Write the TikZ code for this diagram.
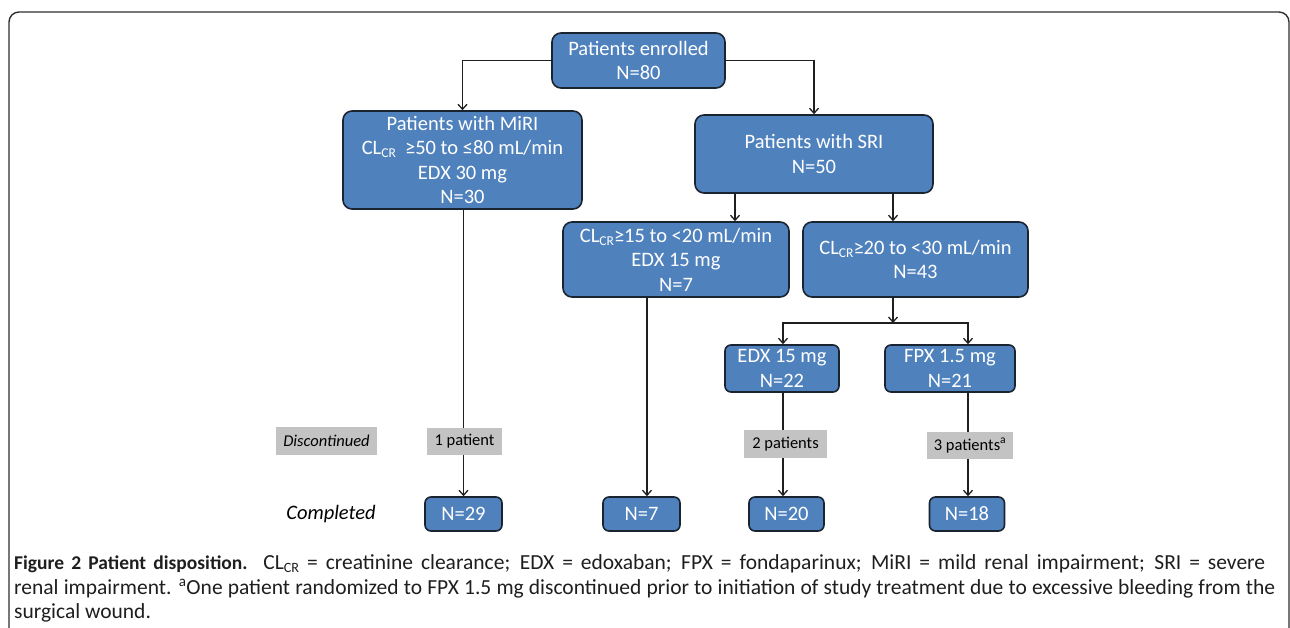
\documentclass[tikz,border=0pt]{standalone}
\usepackage{fontspec}
\setmainfont{Carlito}
\usetikzlibrary{arrows.meta}
\definecolor{boxblue}{HTML}{4F81BD}
\definecolor{boxedge}{HTML}{1A2330}
\definecolor{graybox}{HTML}{C3C3C3}
\definecolor{framegray}{HTML}{2E2E2E}
\definecolor{captext}{HTML}{1E1E1E}
\newcommand{\lowtxt}[1]{\raisebox{-0.3ex}{\scalebox{0.66}{#1}}}
\newcommand{\capbold}[1]{{\fontsize{19.5}{25}\selectfont\bfseries #1}}
\tikzset{
  bluebox/.style={draw=boxedge, line width=1.6pt, fill=boxblue, rounded corners=9pt,
    text=white, align=center, inner sep=0pt, font=\fontsize{20.5}{24.5}\selectfont},
  smallblue/.style={bluebox, rounded corners=6pt},
  greybox/.style={fill=graybox, draw=none, inner sep=0pt, text=black,
    font=\fontsize{16.5}{18}\selectfont},
  arr/.style={draw=black!88, line width=1.3pt, -{Straight Barb[length=5pt,width=9pt]}},
  captxt/.style={anchor=base west, inner sep=0pt, text=captext, font=\fontsize{21.5}{25}\selectfont}
}
\begin{document}
\begin{tikzpicture}[x=1pt,y=-1pt]
\useasboundingbox (0,0) rectangle (1290,627);
% outer frame
\draw[framegray, line width=1.4pt, rounded corners=10pt] (9,640) -- (9,12) -- (1289,12) -- (1289,640);

% blue boxes
\node[bluebox, minimum width=173pt, minimum height=55pt] (enr) at (638.5,60.5) {Patients enrolled\\N=80};
\node[bluebox, minimum width=239pt, minimum height=98pt] (miri) at (462.5,160) {Patients with MiRI\\CL\lowtxt{CR}\hspace{0.45em}≥50 to ≤80 mL/min\\EDX 30 mg\\N=30};
\node[bluebox, minimum width=238pt, minimum height=78pt] (sri) at (814,154) {Patients with SRI\\N=50};
\node[bluebox, minimum width=226pt, minimum height=75pt] (c15) at (676,259.5) {CL\lowtxt{CR}≥15 to <20 mL/min\\EDX 15 mg\\N=7};
\node[bluebox, minimum width=225pt, minimum height=75pt] (c20) at (915.5,259.5) {CL\lowtxt{CR}≥20 to <30 mL/min\\N=43};
\node[smallblue, minimum width=114pt, minimum height=47pt] (edx) at (782,368.5) {EDX 15 mg\\N=22};
\node[smallblue, minimum width=130pt, minimum height=47pt] (fpx) at (950,368.5) {FPX 1.5 mg\\N=21};
\node[smallblue, minimum width=77pt, minimum height=34pt] (n29) at (463.5,514) {N=29};
\node[smallblue, minimum width=77pt, minimum height=34pt] (n7) at (641.5,514) {N=7};
\node[smallblue, minimum width=75pt, minimum height=34pt] (n20) at (786.5,514) {N=20};
\node[smallblue, minimum width=75pt, minimum height=34pt] (n18) at (967,514) {N=18};

% helper coordinates
\coordinate (sa) at (735,0);
\coordinate (sb) at (893,0);
\coordinate (ca) at (647,0);
\coordinate (ea) at (783,0);
\coordinate (fa) at (968,0);
\coordinate (j) at (893,323);

% connectors
\draw[arr] (enr.west) -| (miri.north);
\draw[arr] (enr.east) -| (sri.north);
\draw[arr] (sri.south -| sa) -- (c15.north -| sa);
\draw[arr] (sri.south -| sb) -- (c20.north -| sb);
\draw[arr] (miri.south -| n29.north) -- (n29.north);
\draw[arr] (c15.south -| ca) -- (n7.north -| ca);
\draw[arr] (c20.south -| j) -- (j);
\draw[arr] (j) -| (edx.north -| ea);
\draw[arr] (j) -| (fpx.north -| fa);
\draw[arr] (edx.south -| ea) -- (n20.north -| ea);
\draw[arr] (fpx.south -| fa) -- (n18.north -| fa);

% grey boxes (on top of lines)
\node[greybox, minimum width=101pt, minimum height=28pt] (disc) at (326.5,441) {\textit{Discontinued}};
\node[greybox, minimum width=75pt, minimum height=27pt] (p1) at (464.5,441.5) {1 patient};
\node[greybox, minimum width=83pt, minimum height=28pt] (p2) at (785.5,444) {2 patients};
\node[greybox, minimum width=86pt, minimum height=27pt] (p3) at (970,445.5) {3 patients\textsuperscript{a}};

\node[inner sep=0pt, font=\fontsize{20.5}{24}\selectfont\itshape] (comp) at (331,514) {Completed};

% caption (justified lines)
\node[captxt] (cap1) at (14,569) {\hbox to 1251pt{\capbold{Figure 2 Patient disposition.} CL\lowtxt{CR} = creatinine clearance; EDX = edoxaban; FPX = fondaparinux; MiRI = mild renal impairment; SRI = severe}};
\node[captxt] (cap2) at (14,594) {\hbox to 1261pt{renal impairment. \textsuperscript{a}One patient randomized to FPX 1.5 mg discontinued prior to initiation of study treatment due to excessive bleeding from the}};
\node[captxt] (cap3) at (14,618) {surgical wound.};
\end{tikzpicture}
\end{document}
